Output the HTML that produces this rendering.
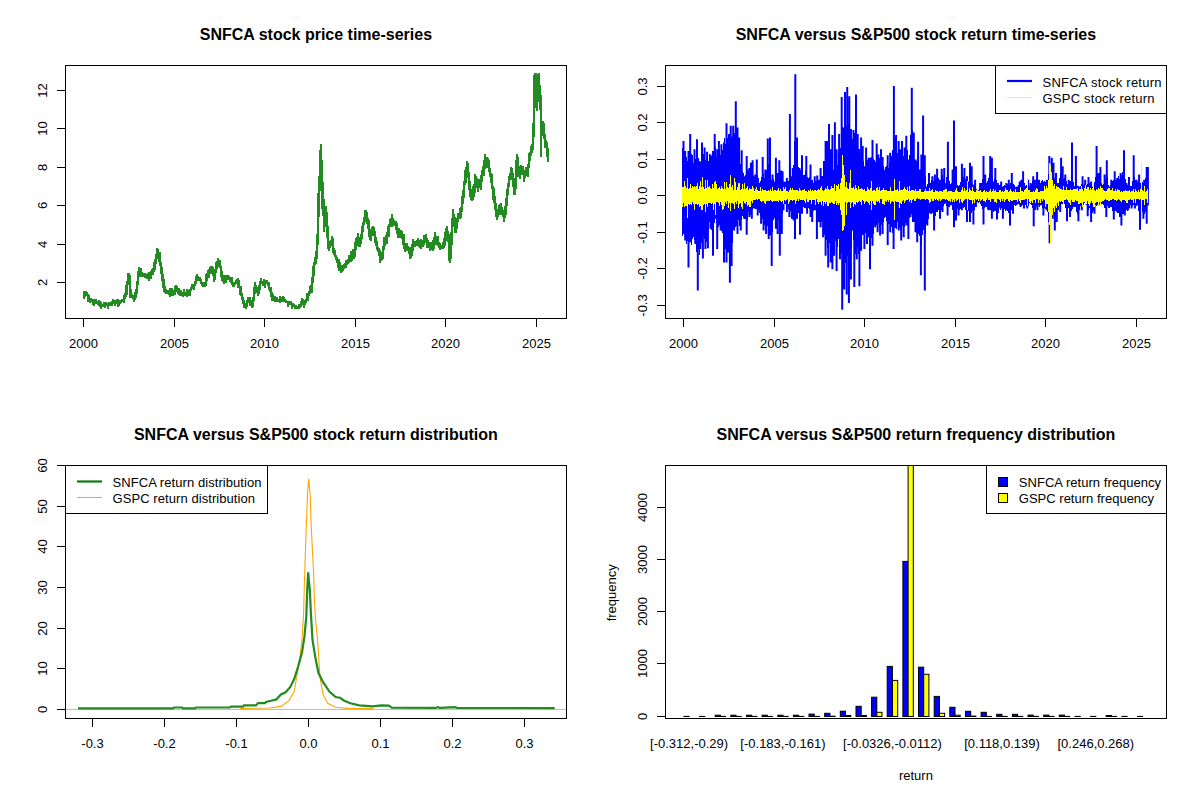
<!DOCTYPE html><html><head><meta charset="utf-8"><style>html,body{margin:0;padding:0;background:#fff;}svg{display:block}</style></head><body>
<svg width="1200" height="800" viewBox="0 0 1200 800" font-family='"Liberation Sans", sans-serif'>
<rect width="1200" height="800" fill="#fff"/>
<defs><clipPath id="c1"><rect x="65.5" y="65.5" width="501" height="253"/></clipPath><clipPath id="c2"><rect x="665.5" y="65.5" width="501" height="253"/></clipPath><clipPath id="c3"><rect x="65.5" y="465.5" width="501" height="253"/></clipPath><clipPath id="c4"><rect x="665.5" y="465.5" width="501" height="253"/></clipPath></defs>
<path d="M83.5,291.2 V298.8 M84.5,291.5 V297.4 M85.5,291.4 V294.3 M86.5,291.7 V296.2 M87.5,294.2 V302.1 M88.5,294.7 V301.5 M89.5,298.8 V302.6 M90.5,298.3 V302.1 M91.5,299.5 V302.3 M92.5,299 V304.8 M93.5,299 V305.7 M94.5,299.3 V304.3 M95.5,299.4 V303 M96.5,300.7 V303.6 M97.5,301.5 V304.6 M98.5,300 V305.6 M99.5,301.4 V306.5 M100.5,301.9 V309.3 M101.5,304.3 V307 M102.5,303.9 V306.8 M103.5,301.6 V306.8 M104.5,301.7 V308 M105.5,302.1 V306.2 M106.5,302.9 V306.1 M107.5,302.7 V308.6 M108.5,302.3 V306 M109.5,302.5 V306 M110.5,301.8 V305.3 M111.5,301.1 V306.2 M112.5,299.2 V303.3 M113.5,300.3 V304.1 M114.5,299.5 V306.1 M115.5,301.3 V303.6 M116.5,299 V304.1 M117.5,298.9 V306.5 M118.5,300.2 V306.3 M119.5,299.8 V303.8 M120.5,300.1 V302.9 M121.5,298.5 V302.3 M122.5,298.6 V302.3 M123.5,295.4 V303 M124.5,293 V299.2 M125.5,284.9 V296.6 M126.5,280.6 V295.1 M127.5,272.7 V284.6 M128.5,272.8 V282.6 M129.5,274.9 V298.4 M130.5,288.9 V297.6 M131.5,294.1 V297.6 M132.5,294.8 V299.1 M133.5,295.4 V302.2 M134.5,291.7 V300.1 M135.5,289.4 V297.8 M136.5,281.4 V294.3 M137.5,270.9 V285.3 M138.5,266.9 V277 M139.5,268.9 V274.6 M140.5,268.1 V276.5 M141.5,272.3 V276.9 M142.5,272.6 V277.3 M143.5,273.2 V277.3 M144.5,273 V278 M145.5,273.5 V278 M146.5,273.9 V279.2 M147.5,273.3 V278.1 M148.5,272.4 V280.6 M149.5,272.5 V277.4 M150.5,270.5 V278.6 M151.5,268.5 V274.3 M152.5,268.3 V274.9 M153.5,262.2 V271.7 M154.5,258.8 V270.3 M155.5,254.3 V263.7 M156.5,247.5 V259.1 M157.5,249.2 V256.9 M158.5,253 V261.9 M159.5,252.4 V266.4 M160.5,261.9 V273.9 M161.5,266.8 V281.2 M162.5,274.3 V287.8 M163.5,279.1 V291.7 M164.5,286.3 V292.5 M165.5,288.9 V294.1 M166.5,290.2 V293.6 M167.5,290.3 V293.6 M168.5,290.2 V294.9 M169.5,288.4 V296.8 M170.5,288.7 V296.2 M171.5,287.7 V295 M172.5,292.8 V296 M173.5,289.9 V295 M174.5,286 V294.7 M175.5,284.7 V289.3 M176.5,286.3 V291.8 M177.5,289.4 V293.6 M178.5,287.6 V294.9 M179.5,290.3 V295.7 M180.5,289.9 V296.2 M181.5,291.8 V296.1 M182.5,291.9 V296.9 M183.5,289.4 V295.4 M184.5,291.7 V295.6 M185.5,291.6 V295.8 M186.5,289.4 V297 M187.5,289.5 V296.1 M188.5,291.4 V294.8 M189.5,289.1 V295.6 M190.5,287 V291.3 M191.5,283.7 V288.9 M192.5,284.6 V288.4 M193.5,283.5 V290 M194.5,280.8 V286.3 M195.5,276.2 V284.1 M196.5,273.9 V280.6 M197.5,275.8 V281 M198.5,276.7 V280.1 M199.5,276.8 V281.3 M200.5,278.7 V284.2 M201.5,282.2 V285.7 M202.5,282.2 V287.3 M203.5,282.6 V286.3 M204.5,282 V286.8 M205.5,273.7 V285.7 M206.5,272.7 V281.1 M207.5,269.8 V276.8 M208.5,268.7 V277.9 M209.5,266.8 V273.5 M210.5,266.4 V271.9 M211.5,266.1 V274.2 M212.5,267.4 V276.1 M213.5,270.5 V281.5 M214.5,268.6 V280.2 M215.5,261.8 V273.1 M216.5,260.5 V269.1 M217.5,258.4 V264.5 M218.5,260.6 V266.6 M219.5,260.4 V267.9 M220.5,266.3 V276.5 M221.5,271.1 V281.1 M222.5,274.9 V281.7 M223.5,274.6 V283.9 M224.5,275 V280.6 M225.5,275.3 V282.5 M226.5,274.8 V280.3 M227.5,275.4 V279.6 M228.5,276.4 V279.6 M229.5,277.1 V282.3 M230.5,277.7 V283.2 M231.5,276.6 V284.5 M232.5,281.8 V286.8 M233.5,283.6 V286.9 M234.5,281.7 V285.2 M235.5,279.7 V284.1 M236.5,278.8 V282.1 M237.5,277.8 V288.2 M238.5,280.3 V288.1 M239.5,286.2 V294.6 M240.5,286.2 V295.9 M241.5,293 V300.3 M242.5,296.5 V303.9 M243.5,300.2 V307.5 M244.5,302.7 V308.1 M245.5,302.8 V309.4 M246.5,300.4 V307.4 M247.5,296.8 V302.5 M248.5,298.5 V302.6 M249.5,296.9 V306.3 M250.5,299.7 V305.5 M251.5,303.1 V308.2 M252.5,297.1 V306.9 M253.5,287.3 V301.3 M254.5,281.7 V294.2 M255.5,285.2 V289.5 M256.5,287.4 V292.6 M257.5,289.3 V296 M258.5,285.4 V294.1 M259.5,281.1 V290.1 M260.5,278.4 V284 M261.5,281.1 V284.4 M262.5,281 V285.7 M263.5,279 V286.2 M264.5,280 V288.3 M265.5,280.8 V284.3 M266.5,280.4 V283.7 M267.5,281.8 V285.5 M268.5,281.9 V290 M269.5,286.7 V291.7 M270.5,287 V297 M271.5,292.3 V300.8 M272.5,293.7 V300 M273.5,297.6 V300.7 M274.5,296 V301.8 M275.5,299 V302.1 M276.5,297.1 V301.9 M277.5,299.1 V302 M278.5,298.9 V301.9 M279.5,296.4 V302.8 M280.5,298.5 V301.6 M281.5,297.3 V301.5 M282.5,295.6 V301.8 M283.5,296.7 V301.3 M284.5,298.9 V302.3 M285.5,299.5 V302.6 M286.5,300.7 V303.2 M287.5,300.9 V306.7 M288.5,301.4 V304.6 M289.5,301.9 V304.9 M290.5,300.6 V305.3 M291.5,302.9 V308.6 M292.5,303.3 V306.7 M293.5,304.1 V307 M294.5,304.5 V309.4 M295.5,305.1 V307.6 M296.5,305.5 V309.1 M297.5,306 V308.3 M298.5,303.5 V308.8 M299.5,303.8 V307.8 M300.5,301.4 V306.8 M301.5,297.7 V304.2 M302.5,298.7 V304.9 M303.5,301.2 V307.6 M304.5,299.6 V305.1 M305.5,298.7 V303.2 M306.5,292.8 V300.7 M307.5,293.1 V301.1 M308.5,291.4 V295.8 M309.5,286.4 V294 M310.5,285.1 V292.6 M311.5,277.1 V293.2 M312.5,266.3 V282.7 M313.5,262 V275.8 M314.5,257.1 V265.2 M315.5,251.2 V263.6 M316.5,234 V259.2 M317.5,192.7 V245.4 M318.5,175.6 V216.7 M319.5,150.1 V191.3 M320.5,143.5 V179.3 M321.5,160.4 V209.4 M322.5,182 V216.1 M323.5,199.2 V232 M324.5,208.8 V226.5 M325.5,206 V224 M326.5,212.4 V237.6 M327.5,226.3 V248.6 M328.5,241.8 V250.8 M329.5,241.2 V247.8 M330.5,240 V246.3 M331.5,236.1 V244.7 M332.5,238.1 V253 M333.5,248.2 V254.5 M334.5,249.9 V256.9 M335.5,254.7 V260.4 M336.5,257.3 V263 M337.5,259.8 V267.6 M338.5,258.9 V270.7 M339.5,261.5 V267.6 M340.5,265 V272.9 M341.5,266.1 V271.8 M342.5,265.2 V271.1 M343.5,263.8 V268.7 M344.5,263 V268.2 M345.5,259.7 V267.9 M346.5,259.6 V264.8 M347.5,259.4 V263.6 M348.5,255.1 V263.1 M349.5,256.3 V261.7 M350.5,250.5 V261.5 M351.5,252.6 V261.2 M352.5,248.7 V257.5 M353.5,250.7 V258.5 M354.5,241.7 V257.2 M355.5,238 V249.9 M356.5,236.5 V245.6 M357.5,232.9 V243.2 M358.5,237.3 V247 M359.5,240.5 V247.1 M360.5,233.7 V243.5 M361.5,226.4 V239.4 M362.5,221.7 V231.5 M363.5,217 V224.5 M364.5,210.1 V221.7 M365.5,209.6 V220.1 M366.5,212 V224.2 M367.5,217.9 V229.2 M368.5,220.4 V236.5 M369.5,229.2 V239.7 M370.5,231.2 V240.7 M371.5,227.1 V234.5 M372.5,225.6 V236.1 M373.5,227.1 V234.4 M374.5,231.3 V243.1 M375.5,237.4 V245.9 M376.5,241.4 V249.7 M377.5,246.7 V252 M378.5,247.8 V255.6 M379.5,249.5 V262.8 M380.5,253.6 V261.2 M381.5,251.7 V260.2 M382.5,246.3 V258.8 M383.5,237.3 V249.8 M384.5,238.6 V245.5 M385.5,235.1 V243.6 M386.5,231.9 V243.8 M387.5,225.6 V235.7 M388.5,224.2 V237.1 M389.5,219 V227.2 M390.5,217.7 V226.6 M391.5,214.3 V227.4 M392.5,218 V225.3 M393.5,219.5 V225.5 M394.5,221 V226.4 M395.5,221.2 V229.5 M396.5,222.6 V234.4 M397.5,227.7 V237.9 M398.5,227.5 V236.3 M399.5,229.9 V237.7 M400.5,229.9 V237.7 M401.5,231.2 V238.7 M402.5,234.4 V244.8 M403.5,233.8 V248.6 M404.5,242.5 V251.5 M405.5,242.8 V248.4 M406.5,243.4 V251.4 M407.5,245.5 V249.1 M408.5,247.6 V253.6 M409.5,247.1 V258.6 M410.5,251.7 V258.3 M411.5,244.4 V255.7 M412.5,239.3 V250.9 M413.5,242.3 V246.7 M414.5,240.6 V247.4 M415.5,240.6 V246.4 M416.5,239.7 V246.3 M417.5,238.2 V245 M418.5,240.4 V246.6 M419.5,241.5 V247.5 M420.5,239.4 V248.6 M421.5,242.1 V247.4 M422.5,239.8 V246.9 M423.5,235 V244.9 M424.5,235.5 V240.9 M425.5,234.1 V242.7 M426.5,238 V247.8 M427.5,239.8 V247.3 M428.5,242.4 V248.3 M429.5,243 V251.1 M430.5,241.9 V250.2 M431.5,241.5 V249.4 M432.5,239.6 V250.8 M433.5,236.8 V248.9 M434.5,232.4 V241.1 M435.5,235.6 V244.5 M436.5,237.9 V242.2 M437.5,235.9 V245.7 M438.5,241.5 V247.5 M439.5,242.8 V250.2 M440.5,244.6 V249 M441.5,244.5 V249.1 M442.5,242.2 V248.5 M443.5,238.3 V247.6 M444.5,231.5 V245.9 M445.5,227.7 V241.1 M446.5,225.5 V237.7 M447.5,230.6 V242.3 M448.5,233.6 V261.3 M449.5,250.8 V263.3 M450.5,232.2 V258.6 M451.5,218.1 V245.2 M452.5,209.4 V227.3 M453.5,213.9 V226 M454.5,216.8 V233.1 M455.5,223.4 V233.1 M456.5,217.9 V229 M457.5,213.3 V221.6 M458.5,213.3 V217 M459.5,208.2 V218.6 M460.5,206.8 V218.3 M461.5,195.9 V211.9 M462.5,189.5 V203.7 M463.5,181.3 V198.3 M464.5,169.6 V185.4 M465.5,167.3 V183.2 M466.5,160.7 V173.7 M467.5,163.3 V177.6 M468.5,172.1 V189.9 M469.5,181 V196.8 M470.5,188.7 V200 M471.5,190.8 V200.5 M472.5,185.9 V200.3 M473.5,183.5 V196.7 M474.5,173.8 V193.1 M475.5,176.2 V185.3 M476.5,178.2 V187.6 M477.5,178.6 V191.9 M478.5,178.6 V188.1 M479.5,181.1 V186.4 M480.5,175 V190.2 M481.5,170.4 V182.2 M482.5,166.2 V172.8 M483.5,159.7 V176.3 M484.5,153.6 V169.2 M485.5,158.4 V162.6 M486.5,157.3 V168.1 M487.5,158.1 V167.7 M488.5,159.6 V171.5 M489.5,167.6 V176.7 M490.5,172.5 V183.1 M491.5,173.8 V189.4 M492.5,186.4 V200.2 M493.5,188.3 V202.7 M494.5,196.4 V209.9 M495.5,203.2 V217.4 M496.5,210.4 V219.7 M497.5,209.1 V216.7 M498.5,205.2 V214 M499.5,203.7 V214.8 M500.5,202.8 V211.1 M501.5,206.6 V214.8 M502.5,210.3 V217.2 M503.5,210.9 V222.2 M504.5,205.9 V218.1 M505.5,198.4 V214.7 M506.5,189.1 V205.7 M507.5,182.6 V194.5 M508.5,175.7 V186.5 M509.5,173.1 V179.5 M510.5,167 V178.5 M511.5,167.5 V179.9 M512.5,173.3 V187.4 M513.5,182.6 V194.9 M514.5,178 V194.9 M515.5,159.7 V188.6 M516.5,153.6 V176.7 M517.5,156.7 V174.3 M518.5,165.5 V177 M519.5,169.2 V178.8 M520.5,164.6 V175.3 M521.5,166.1 V173.8 M522.5,166.3 V175.3 M523.5,169.6 V181.5 M524.5,170.5 V178.4 M525.5,166.9 V175.7 M526.5,168.5 V173.9 M527.5,164.1 V177 M528.5,153.1 V167.6 M529.5,152.4 V161.3 M530.5,145.9 V156.1 M531.5,144.2 V153.1 M532.5,122.5 V149.9 M533.5,75.2 V137 M534.5,73.4 V108.2 M535.5,73.2 V100.2 M536.5,85 V111.2 M537.5,74.4 V102 M538.5,72.9 V99.9 M539.5,85.3 V110.1 M540.5,95.1 V157.1 M541.5,126.3 V132.3 M542.5,121 V135.9 M543.5,122.7 V139.3 M544.5,133.6 V148.3 M545.5,139.8 V148.3 M546.5,142.4 V156.7 M547.5,147.6 V162.1" fill="none" stroke="#228B22" stroke-width="2" shape-rendering="crispEdges" clip-path="url(#c1)"/>
<rect x="65.5" y="65.5" width="501.0" height="253.0" fill="none" stroke="#000" stroke-width="1"/>
<text x="315.9" y="40" font-size="16" font-weight="bold" text-anchor="middle">SNFCA stock price time-series</text>
<line x1="83.5" y1="318.5" x2="83.5" y2="327.0" stroke="#000" stroke-width="1"/>
<text x="83.5" y="348.0" font-size="13" text-anchor="middle">2000</text>
<line x1="174.5" y1="318.5" x2="174.5" y2="327.0" stroke="#000" stroke-width="1"/>
<text x="174.5" y="348.0" font-size="13" text-anchor="middle">2005</text>
<line x1="264.5" y1="318.5" x2="264.5" y2="327.0" stroke="#000" stroke-width="1"/>
<text x="264.5" y="348.0" font-size="13" text-anchor="middle">2010</text>
<line x1="355.5" y1="318.5" x2="355.5" y2="327.0" stroke="#000" stroke-width="1"/>
<text x="355.5" y="348.0" font-size="13" text-anchor="middle">2015</text>
<line x1="445.5" y1="318.5" x2="445.5" y2="327.0" stroke="#000" stroke-width="1"/>
<text x="445.5" y="348.0" font-size="13" text-anchor="middle">2020</text>
<line x1="536.5" y1="318.5" x2="536.5" y2="327.0" stroke="#000" stroke-width="1"/>
<text x="536.5" y="348.0" font-size="13" text-anchor="middle">2025</text>
<line x1="57.0" y1="282.5" x2="65.5" y2="282.5" stroke="#000" stroke-width="1"/>
<text transform="translate(47.0,282.5) rotate(-90)" font-size="13" text-anchor="middle">2</text>
<line x1="57.0" y1="244.5" x2="65.5" y2="244.5" stroke="#000" stroke-width="1"/>
<text transform="translate(47.0,244.5) rotate(-90)" font-size="13" text-anchor="middle">4</text>
<line x1="57.0" y1="205.5" x2="65.5" y2="205.5" stroke="#000" stroke-width="1"/>
<text transform="translate(47.0,205.5) rotate(-90)" font-size="13" text-anchor="middle">6</text>
<line x1="57.0" y1="167.5" x2="65.5" y2="167.5" stroke="#000" stroke-width="1"/>
<text transform="translate(47.0,167.5) rotate(-90)" font-size="13" text-anchor="middle">8</text>
<line x1="57.0" y1="128.5" x2="65.5" y2="128.5" stroke="#000" stroke-width="1"/>
<text transform="translate(47.0,128.5) rotate(-90)" font-size="13" text-anchor="middle">10</text>
<line x1="57.0" y1="90.5" x2="65.5" y2="90.5" stroke="#000" stroke-width="1"/>
<text transform="translate(47.0,90.5) rotate(-90)" font-size="13" text-anchor="middle">12</text>
<path d="M682.5,147.9 V235.7 M683.5,142.5 V231.5 M684.5,152.5 V234.9 M685.5,151.1 V234.1 M686.5,156.5 V243.9 M687.5,160.6 V240.9 M688.5,151.3 V252.3 M689.5,152.2 V235.5 M690.5,145.4 V241.2 M691.5,153.6 V245.3 M692.5,154.9 V238.8 M693.5,162.8 V237.2 M694.5,157.4 V240.2 M695.5,159.3 V237.6 M696.5,152.2 V252.4 M697.5,156.7 V269.6 M698.5,157.6 V249.2 M699.5,164 V254.7 M700.5,161.8 V246.5 M701.5,162.1 V242.5 M702.5,150.8 V250.5 M703.5,153.8 V235.6 M704.5,156.8 V238.6 M705.5,160.2 V238.1 M706.5,158 V242.2 M707.5,154.9 V234.9 M708.5,160.6 V230 M709.5,153.5 V222 M710.5,161.4 V219.6 M711.5,155.9 V230.3 M712.5,154.2 V235.6 M713.5,158.4 V226.1 M714.5,144.4 V222.9 M715.5,146.7 V216.6 M716.5,156.7 V223.4 M717.5,157.3 V235.1 M718.5,148.7 V226.8 M719.5,150 V224.7 M720.5,155.2 V226.3 M721.5,148.6 V231.3 M722.5,150.2 V232.7 M723.5,152.5 V235.1 M724.5,138.1 V248.6 M725.5,144 V249.2 M726.5,132 V240.6 M727.5,137.8 V246.8 M728.5,140.8 V247.6 M729.5,144.8 V248.1 M730.5,134.6 V245.5 M731.5,137.3 V250.9 M732.5,135.7 V242.6 M733.5,138.9 V228.6 M734.5,132.5 V225.5 M735.5,122.1 V227 M736.5,134.1 V225.6 M737.5,154.2 V223.4 M738.5,158.5 V220.3 M739.5,164 V226.2 M740.5,163.9 V220.9 M741.5,167.6 V220.1 M742.5,171.2 V216 M743.5,173 V216.6 M744.5,178.3 V218.8 M745.5,175.3 V218.7 M746.5,166.1 V220.3 M747.5,170.1 V219.8 M748.5,169.7 V212.3 M749.5,174.1 V212.9 M750.5,172.6 V214.5 M751.5,172.1 V214.8 M752.5,173.1 V209.9 M753.5,175.7 V207.8 M754.5,177 V207.1 M755.5,176.4 V209.3 M756.5,175 V208.8 M757.5,174.9 V209.5 M758.5,178.2 V210.1 M759.5,183.3 V213.3 M760.5,180.8 V215.8 M761.5,176.7 V219.8 M762.5,171.9 V218.5 M763.5,174 V218 M764.5,177.5 V224.6 M765.5,177.2 V228 M766.5,169.8 V225.4 M767.5,165.1 V225.8 M768.5,163.9 V222.6 M769.5,163.6 V223.3 M770.5,180 V231.7 M771.5,179.6 V236.7 M772.5,177 V231.6 M773.5,179.2 V220 M774.5,182 V217.8 M775.5,176.8 V222.7 M776.5,172.6 V217.9 M777.5,178.3 V221.6 M778.5,173.8 V219.6 M779.5,170.6 V224.9 M780.5,175 V221.2 M781.5,179.2 V221.8 M782.5,176.2 V213.8 M783.5,182 V204.7 M784.5,183.4 V203.5 M785.5,182.3 V203.5 M786.5,182.8 V205.6 M787.5,180.6 V206.4 M788.5,180.8 V208.8 M789.5,157.6 V208.4 M790.5,166 V210.5 M791.5,179.6 V207.9 M792.5,174.6 V216 M793.5,165.1 V212.2 M794.5,140.5 V224 M795.5,143.5 V219.9 M796.5,155.9 V219.1 M797.5,165.7 V215.3 M798.5,166.6 V213 M799.5,173 V217.3 M800.5,170.2 V219.1 M801.5,171.3 V210 M802.5,168 V208.2 M803.5,175.3 V207.3 M804.5,174.5 V208.1 M805.5,170.9 V207.7 M806.5,175.2 V209.6 M807.5,176.6 V209.6 M808.5,178.3 V208.4 M809.5,177.4 V208.5 M810.5,173.9 V212.5 M811.5,179.8 V214.3 M812.5,180.2 V215.2 M813.5,182.7 V211.4 M814.5,182.8 V210.4 M815.5,180.9 V208.2 M816.5,181.2 V216.5 M817.5,179.6 V221.7 M818.5,182.8 V214.9 M819.5,180.2 V215.4 M820.5,172.8 V216.2 M821.5,175.5 V221.8 M822.5,175.6 V221.4 M823.5,173.5 V232.1 M824.5,168.5 V235.3 M825.5,166.4 V237.8 M826.5,155.7 V240.1 M827.5,155.5 V247.5 M828.5,158.5 V245.4 M829.5,156.3 V243.2 M830.5,166.1 V251.6 M831.5,163.2 V252.1 M832.5,158.1 V243.9 M833.5,169.5 V246 M834.5,163.8 V240.5 M835.5,160 V240.6 M836.5,157.5 V255.3 M837.5,165 V246.6 M838.5,152.5 V238.3 M839.5,158.4 V243 M840.5,147.6 V246.3 M841.5,127.8 V252.5 M842.5,126.9 V271.2 M843.5,138.3 V272.2 M844.5,120.1 V255.6 M845.5,123.4 V262.7 M846.5,125.8 V263.5 M847.5,106 V256 M848.5,123.8 V264.5 M849.5,112.5 V267.5 M850.5,135.9 V258.8 M851.5,129.6 V247.3 M852.5,138.8 V226.9 M853.5,129.9 V239.6 M854.5,133.2 V254.9 M855.5,126.9 V254.1 M856.5,135.3 V237.1 M857.5,149.9 V247.1 M858.5,149.2 V253.5 M859.5,148.7 V261 M860.5,154.3 V249.8 M861.5,159.5 V241.2 M862.5,156.9 V235.1 M863.5,160.8 V235.3 M864.5,168.1 V245.6 M865.5,166.4 V232.6 M866.5,160.6 V233.7 M867.5,159.6 V230.1 M868.5,160.5 V234 M869.5,161.3 V228.7 M870.5,164.4 V245.2 M871.5,157.3 V237.5 M872.5,156.1 V233.4 M873.5,158.5 V234.1 M874.5,159.9 V224 M875.5,162.3 V225.1 M876.5,155.8 V225.2 M877.5,161.3 V223.6 M878.5,165.5 V223.1 M879.5,158.4 V227.6 M880.5,158.4 V228.4 M881.5,158.2 V225 M882.5,162 V220 M883.5,165.7 V221.8 M884.5,171.1 V218.3 M885.5,166.9 V217.3 M886.5,166.4 V220.9 M887.5,166.3 V231.5 M888.5,168.4 V224 M889.5,161.8 V224.1 M890.5,167.4 V224.8 M891.5,165.5 V226.6 M892.5,150.2 V233.3 M893.5,131.6 V234.1 M894.5,138.7 V228.4 M895.5,135.6 V228.3 M896.5,154.3 V228.7 M897.5,153.3 V222.4 M898.5,150.7 V224.4 M899.5,150.2 V228.1 M900.5,155.3 V230.2 M901.5,154.7 V230.7 M902.5,152.3 V225.6 M903.5,155.8 V221.6 M904.5,156.7 V226.6 M905.5,152.3 V223 M906.5,148.2 V217.5 M907.5,150.2 V225.1 M908.5,164.5 V228.8 M909.5,155 V218.2 M910.5,135.3 V216.1 M911.5,126.2 V214.4 M912.5,130 V214.7 M913.5,153.6 V218.1 M914.5,163.9 V221.7 M915.5,168.6 V221.2 M916.5,161.2 V224.9 M917.5,155.8 V230.6 M918.5,157.7 V227.6 M919.5,174.8 V235.8 M920.5,177.8 V246.4 M921.5,172.3 V245 M922.5,158.5 V234.9 M923.5,162.1 V230.4 M924.5,167 V249.8 M925.5,177.2 V234.1 M926.5,186.7 V224.3 M927.5,184.3 V219.9 M928.5,183.5 V218.8 M929.5,180.1 V213.1 M930.5,182.6 V211.8 M931.5,180.4 V214.1 M932.5,183.7 V213 M933.5,180.6 V220.4 M934.5,180 V218.6 M935.5,178.6 V215.9 M936.5,176.9 V209.7 M937.5,174.3 V212 M938.5,178.1 V210 M939.5,179.6 V207.6 M940.5,180.2 V208.1 M941.5,177.4 V209.7 M942.5,175.3 V205.4 M943.5,179.2 V206.4 M944.5,177.8 V203.6 M945.5,183 V203.2 M946.5,177 V205.9 M947.5,166.2 V208.9 M948.5,173.7 V206.7 M949.5,181.1 V207.1 M950.5,183.9 V203.2 M951.5,182.8 V205.3 M952.5,179.5 V210.3 M953.5,165.3 V212.5 M954.5,166.5 V214.6 M955.5,173.3 V210.1 M956.5,179.5 V213.6 M957.5,184.7 V208.8 M958.5,186.4 V209.2 M959.5,184.7 V209.5 M960.5,181.7 V209.1 M961.5,177.4 V209.8 M962.5,174 V205.8 M963.5,177.2 V207.7 M964.5,176.5 V207.3 M965.5,179.3 V209.8 M966.5,181.3 V211 M967.5,181 V214.1 M968.5,182 V211 M969.5,179.3 V209.1 M970.5,180.7 V213.6 M971.5,179.2 V213.1 M972.5,183 V211.4 M973.5,188.6 V211 M974.5,186.6 V210.4 M975.5,186.2 V204.8 M976.5,188.6 V202.8 M977.5,190.2 V201.9 M978.5,189.9 V202.8 M979.5,187.8 V201.9 M980.5,185.3 V204 M981.5,183.1 V205.6 M982.5,179 V208.8 M983.5,172.9 V212.4 M984.5,177.4 V208.2 M985.5,178.7 V205.8 M986.5,184.5 V205.5 M987.5,181.1 V208.9 M988.5,178.4 V208.8 M989.5,174.3 V210.4 M990.5,174.3 V210 M991.5,168.9 V210.2 M992.5,177.1 V209.5 M993.5,183.6 V211.5 M994.5,178.7 V211.3 M995.5,177.8 V211.3 M996.5,179.6 V214.8 M997.5,184 V210.6 M998.5,184.5 V212.8 M999.5,184.7 V207.4 M1000.5,183.8 V209.5 M1001.5,185.4 V208.4 M1002.5,186.7 V212 M1003.5,185.8 V212.5 M1004.5,185.4 V209.3 M1005.5,186.3 V210.5 M1006.5,184.8 V208.7 M1007.5,184 V211 M1008.5,185.5 V213.2 M1009.5,184.7 V213.9 M1010.5,182.6 V213.1 M1011.5,180.5 V210.2 M1012.5,182.7 V207.5 M1013.5,184.3 V208.3 M1014.5,185.4 V205.3 M1015.5,186.5 V206.4 M1016.5,187.3 V203.5 M1017.5,187.6 V203.8 M1018.5,185 V203.8 M1019.5,183.8 V205 M1020.5,184.1 V205.7 M1021.5,183.4 V206.1 M1022.5,180.8 V205.3 M1023.5,179.9 V206.1 M1024.5,183 V206.2 M1025.5,185.8 V204.9 M1026.5,185.1 V206.9 M1027.5,184.8 V204.7 M1028.5,183.9 V205.8 M1029.5,185.8 V202.6 M1030.5,185.3 V203.6 M1031.5,183.5 V205.4 M1032.5,181.3 V208.2 M1033.5,179.8 V210.7 M1034.5,183.7 V210.4 M1035.5,183.1 V210.2 M1036.5,179.4 V206.9 M1037.5,177.2 V205.8 M1038.5,181.8 V205.2 M1039.5,180.5 V206.9 M1040.5,183.1 V203.5 M1041.5,180.9 V205.1 M1042.5,180.3 V207.8 M1043.5,181.5 V208.6 M1044.5,180.6 V208.4 M1045.5,182.3 V209.4 M1046.5,183.1 V208 M1047.5,180.3 V211.9 M1048.5,174.3 V221.5 M1049.5,173.6 V224.9 M1050.5,170.6 V224.7 M1051.5,166.9 V218.5 M1052.5,174.7 V212.5 M1053.5,175.8 V215.2 M1054.5,177.7 V216.8 M1055.5,176.7 V219.4 M1056.5,180.9 V219.5 M1057.5,183 V210.4 M1058.5,184.9 V210.1 M1059.5,177.5 V206.4 M1060.5,173 V206.8 M1061.5,174.4 V204 M1062.5,175.4 V203.9 M1063.5,178.9 V201.9 M1064.5,178.1 V203.8 M1065.5,179.6 V207.9 M1066.5,181.2 V210.9 M1067.5,183.5 V211.5 M1068.5,182.4 V208.2 M1069.5,183.1 V210.9 M1070.5,181 V206.1 M1071.5,173.9 V210.8 M1072.5,174.4 V208.9 M1073.5,181.8 V207.2 M1074.5,185.8 V206.5 M1075.5,175 V207.4 M1076.5,178.6 V212.3 M1077.5,185.6 V213.6 M1078.5,185.8 V208.4 M1079.5,187.6 V210.1 M1080.5,185.7 V205.8 M1081.5,184.3 V205.1 M1082.5,182.7 V203.5 M1083.5,184.5 V204.6 M1084.5,184 V203.1 M1085.5,185 V202.3 M1086.5,184.6 V204.8 M1087.5,184.1 V208.3 M1088.5,183.9 V209.8 M1089.5,183.3 V208 M1090.5,184.6 V210.5 M1091.5,183.7 V209.8 M1092.5,186.7 V213.1 M1093.5,185.9 V210.7 M1094.5,182.3 V207.3 M1095.5,176.5 V205.3 M1096.5,172.4 V205.9 M1097.5,173.9 V205.1 M1098.5,180.2 V202.7 M1099.5,178.3 V204 M1100.5,178.4 V203.5 M1101.5,183.4 V204.3 M1102.5,184.9 V204.3 M1103.5,184.1 V204.7 M1104.5,181.9 V208.4 M1105.5,179.1 V207.8 M1106.5,176 V207.7 M1107.5,176.7 V206.1 M1108.5,184.9 V208.3 M1109.5,186.7 V207.7 M1110.5,185.2 V205.4 M1111.5,184.6 V206.6 M1112.5,181.1 V211 M1113.5,179.5 V209.4 M1114.5,179.2 V210.6 M1115.5,180.2 V210.6 M1116.5,179.8 V211.3 M1117.5,181.9 V212.6 M1118.5,176.3 V213 M1119.5,179.4 V217.2 M1120.5,180.4 V216.7 M1121.5,174.7 V215.7 M1122.5,171.6 V214.4 M1123.5,169.6 V214.2 M1124.5,170.4 V211.3 M1125.5,178.7 V210.7 M1126.5,186.2 V210.3 M1127.5,185 V210.8 M1128.5,183.3 V209.4 M1129.5,183.3 V208.2 M1130.5,186 V205.3 M1131.5,185.8 V206.3 M1132.5,180.5 V206.3 M1133.5,171.9 V205.4 M1134.5,177.3 V207.3 M1135.5,179.5 V206.3 M1136.5,182.2 V206.4 M1137.5,181.6 V203.6 M1138.5,182.5 V210.8 M1139.5,179.3 V211.8 M1140.5,184.3 V213.9 M1141.5,184.9 V213 M1142.5,181.9 V212.4 M1143.5,182.7 V209.1 M1144.5,181.9 V214.2 M1145.5,178.2 V212.2 M1146.5,176.9 V214.8 M1147.5,174.8 V206.4" stroke="#0000FF" stroke-width="1" fill="none" shape-rendering="crispEdges" clip-path="url(#c2)"/>
<path d="M683.5,195.3 V140.9 M685.2,195.3 V151 M688.5,195.3 V151 M690.2,195.3 V134.1 M691.9,195.3 V157.7 M694.5,195.3 V149.3 M697,195.3 V139.2 M699.5,195.3 V161.1 M702,195.3 V142.6 M704.6,195.3 V147.6 M707.1,195.3 V151.8 M710.5,195.3 V154.4 M713,195.3 V151 M714.7,195.3 V134.1 M717.2,195.3 V149.3 M718.9,195.3 V140.9 M721.4,195.3 V144.3 M724,195.3 V142.6 M726.5,195.3 V123.2 M729,195.3 V134.1 M730.7,195.3 V125.7 M733.2,195.3 V125.7 M735.8,195.3 V101.3 M737.5,195.3 V127.4 M739.1,195.3 V137.5 M741.7,195.3 V150.2 M744.2,195.3 V176.3 M746.7,195.3 V156.1 M749.3,195.3 V167.9 M750.9,195.3 V162.8 M752.6,195.3 V160.3 M755.2,195.3 V174.6 M756.8,195.3 V159.4 M759.4,195.3 V183 M762.7,195.3 V156.9 M765.3,195.3 V169.6 M767.8,195.3 V138.4 M770,195.3 V137.5 M770,195.3 V172.1 M772.5,195.3 V174.6 M774.2,195.3 V181.4 M775.9,195.3 V157.7 M777.6,195.3 V172.9 M779.3,195.3 V160.3 M781,195.3 V170.4 M782.6,195.3 V171.2 M784.3,195.3 V181.4 M786.9,195.3 V178 M788.5,195.3 V181.4 M789.9,195.3 V113.9 M791.1,195.3 V176.3 M792.8,195.3 V167.9 M795.3,195.3 V74.3 M797,195.3 V137.5 M799.5,195.3 V167.9 M802,195.3 V155.2 M803.7,195.3 V178 M806.3,195.3 V156.1 M808.8,195.3 V178 M810.5,195.3 V164.5 M813,195.3 V183 M814.7,195.3 V176.3 M817.2,195.3 V175.5 M818.9,195.3 V179.7 M820.6,195.3 V167.9 M824,195.3 V161.1 M825.6,195.3 V140.9 M827.3,195.3 V140.9 M829,195.3 V124 M830.7,195.3 V149.3 M832.4,195.3 V135 M834.1,195.3 V172.9 M834.9,195.3 V122.3 M836.6,195.3 V149.3 M839.1,195.3 V134.1 M841.7,195.3 V97 M843.4,195.3 V127.4 M845,195.3 V92 M847.2,195.3 V86.9 M849.3,195.3 V96.2 M850.9,195.3 V129.1 M853.5,195.3 V129.9 M856,195.3 V94.5 M857.7,195.3 V134.1 M861.1,195.3 V137.5 M862.7,195.3 V145.9 M864.4,195.3 V166.2 M866.1,195.3 V147.6 M868.7,195.3 V157.7 M870,195.3 V157.7 M870,195.3 V157.7 M872.5,195.3 V140 M874.2,195.3 V162.8 M876.7,195.3 V143.4 M878.4,195.3 V154.4 M881,195.3 V149.3 M882.6,195.3 V156.9 M885.2,195.3 V169.6 M887.7,195.3 V155.2 M890.2,195.3 V152.7 M891.9,195.3 V156.1 M893.9,195.3 V86.1 M896.1,195.3 V135 M898.7,195.3 V140.9 M900.4,195.3 V149.3 M902,195.3 V140.9 M904.6,195.3 V147.6 M906.3,195.3 V135.8 M908.8,195.3 V159.4 M911.8,195.3 V87.8 M913.8,195.3 V132.5 M915.5,195.3 V159.4 M918.1,195.3 V141.7 M919.7,195.3 V169.6 M921.4,195.3 V154.4 M923.1,195.3 V115.6 M924.8,195.3 V155.2 M926.5,195.3 V186.4 M929,195.3 V172.9 M932.4,195.3 V176.3 M934.9,195.3 V174.6 M937.1,195.3 V168.7 M939.1,195.3 V179.7 M941.7,195.3 V168.7 M944.2,195.3 V167.9 M945.9,195.3 V183 M947.9,195.3 V141.7 M950.1,195.3 V184.7 M952.6,195.3 V169.6 M954,195.3 V120.6 M956,195.3 V166.2 M958.5,195.3 V186.4 M961.9,195.3 V163.7 M964.4,195.3 V167.9 M967,195.3 V176.3 M968.7,195.3 V181.4 M970,195.3 V162.8 M970,195.3 V181.4 M971.7,195.3 V166.2 M973.4,195.3 V184.7 M975.1,195.3 V179.7 M977.6,195.3 V189.8 M980.1,195.3 V183 M983.5,195.3 V156.1 M985.2,195.3 V174.6 M986.9,195.3 V183 M990.2,195.3 V156.1 M991.9,195.3 V157.7 M993.6,195.3 V181.4 M995.3,195.3 V167.9 M997.8,195.3 V183 M1001.2,195.3 V181.4 M1003.7,195.3 V186.4 M1006.3,195.3 V183 M1008.8,195.3 V179.7 M1011.8,195.3 V172.9 M1013.8,195.3 V185.6 M1017.2,195.3 V186.4 M1019.7,195.3 V181.4 M1021.4,195.3 V179.7 M1023.1,195.3 V171.2 M1025.6,195.3 V186.4 M1028.2,195.3 V179.7 M1030.7,195.3 V183 M1033.2,195.3 V176.3 M1034.9,195.3 V179.7 M1037.1,195.3 V172.1 M1039.1,195.3 V179.7 M1042.5,195.3 V181.4 M1046.7,195.3 V179.7 M1049.3,195.3 V156.1 M1051.8,195.3 V157.7 M1053.5,195.3 V162.8 M1056,195.3 V172.9 M1058.5,195.3 V183 M1061.1,195.3 V157.7 M1062.7,195.3 V166.2 M1065.3,195.3 V174.6 M1068.7,195.3 V179.7 M1070,195.3 V181.4 M1070,195.3 V181.4 M1072,195.3 V142.6 M1074.2,195.3 V186.4 M1075.9,195.3 V156.1 M1077.6,195.3 V186.4 M1080.1,195.3 V186.4 M1082.6,195.3 V176.3 M1085.2,195.3 V179.7 M1088.5,195.3 V177.1 M1091.1,195.3 V181.4 M1093.6,195.3 V186.4 M1096.6,195.3 V145.9 M1098.7,195.3 V172.9 M1100.4,195.3 V167 M1102,195.3 V186.4 M1104.6,195.3 V174.6 M1106.8,195.3 V160.3 M1108.8,195.3 V186.4 M1111.3,195.3 V179.7 M1114.7,195.3 V171.2 M1117.2,195.3 V178 M1120.6,195.3 V172.9 M1124,195.3 V150.2 M1126.5,195.3 V183 M1129,195.3 V177.1 M1131.6,195.3 V186.4 M1133.7,195.3 V155.2 M1136.6,195.3 V179.7 M1139.1,195.3 V174.6 M1140.8,195.3 V183 M1144.2,195.3 V179.7 M1146.7,195.3 V167 M1147.9,195.3 V167 M683.5,195.3 V233.9 M685.2,195.3 V240.6 M688.5,195.3 V267.6 M690.2,195.3 V242.3 M695.3,195.3 V244 M697.8,195.3 V290.4 M700.4,195.3 V249.1 M702.9,195.3 V258.4 M705.4,195.3 V249.1 M707.9,195.3 V248.2 M710.5,195.3 V228.8 M713,195.3 V255.8 M715.5,195.3 V218.7 M717.2,195.3 V249.1 M720.6,195.3 V230.5 M724,195.3 V262.6 M726.5,195.3 V262.6 M728.2,195.3 V252.5 M729.9,195.3 V282.8 M731.6,195.3 V265.9 M734.1,195.3 V230.5 M737.5,195.3 V233.9 M740.8,195.3 V230.5 M744.2,195.3 V218.7 M746.7,195.3 V234.7 M749.3,195.3 V217 M751.8,195.3 V218.7 M754.3,195.3 V208.6 M757.7,195.3 V215.4 M761.1,195.3 V223.8 M763.6,195.3 V230.5 M766.1,195.3 V233.9 M768.7,195.3 V239 M770,195.3 V235.6 M770,195.3 V235.6 M771.7,195.3 V265.9 M773.4,195.3 V218.7 M775.9,195.3 V228.8 M777.6,195.3 V233.9 M779.8,195.3 V255.8 M781.8,195.3 V233.9 M783.5,195.3 V210.3 M785.2,195.3 V203.5 M786.9,195.3 V212 M789.4,195.3 V217 M791.9,195.3 V218.7 M793.6,195.3 V220.4 M795,195.3 V239 M797,195.3 V218.7 M800,195.3 V234.7 M802,195.3 V213.7 M803.7,195.3 V206.9 M807.1,195.3 V213.7 M810.5,195.3 V217 M812.2,195.3 V222.1 M815.5,195.3 V210.3 M816.9,195.3 V239 M818.9,195.3 V222.1 M820.6,195.3 V227.2 M823.1,195.3 V237.3 M825.6,195.3 V255.8 M828.2,195.3 V267.6 M830.7,195.3 V262.6 M832.4,195.3 V269.3 M834.1,195.3 V255.8 M836.6,195.3 V271 M838.3,195.3 V239 M840,195.3 V259.2 M842.2,195.3 V309.8 M844.2,195.3 V289.6 M846.7,195.3 V294.6 M848.9,195.3 V303 M850.9,195.3 V279.4 M852.6,195.3 V230.5 M854.3,195.3 V287 M856.8,195.3 V259.2 M859.4,195.3 V286.2 M861.1,195.3 V250.8 M864.4,195.3 V249.1 M867,195.3 V244 M868.7,195.3 V237.3 M870,195.3 V235.6 M870,195.3 V269.3 M872.5,195.3 V245.7 M875.1,195.3 V227.2 M877.6,195.3 V232.2 M880.1,195.3 V235.6 M882.6,195.3 V233.9 M885.2,195.3 V217 M887.7,195.3 V244.9 M890.2,195.3 V232.2 M893.6,195.3 V249.1 M896.1,195.3 V227.2 M898.7,195.3 V230.5 M901.2,195.3 V240.6 M903.7,195.3 V237.3 M906.3,195.3 V225.5 M908.4,195.3 V239 M910.5,195.3 V217 M913,195.3 V222.1 M915.5,195.3 V232.2 M917.2,195.3 V242.3 M918.9,195.3 V233.9 M920.9,195.3 V275.2 M923.1,195.3 V228.8 M924.8,195.3 V290.4 M927.3,195.3 V225.5 M930.7,195.3 V213.7 M934.1,195.3 V230.5 M936.6,195.3 V212 M940,195.3 V218.7 M942.5,195.3 V212 M945,195.3 V203.5 M947.6,195.3 V215.4 M950.9,195.3 V205.2 M954,195.3 V227.2 M956,195.3 V220.4 M958.5,195.3 V215.4 M961.9,195.3 V210.3 M964.4,195.3 V206.9 M967,195.3 V222.1 M970,195.3 V208.6 M970,195.3 V222.1 M973.4,195.3 V224.6 M975.9,195.3 V206.9 M979.3,195.3 V201.9 M983.5,195.3 V224.6 M986,195.3 V206.9 M988.5,195.3 V210.3 M991.9,195.3 V218.7 M997,195.3 V219.6 M1000.4,195.3 V208.6 M1002.9,195.3 V218.7 M1006.3,195.3 V210.3 M1010,195.3 V225.5 M1013,195.3 V213.7 M1016.4,195.3 V205.2 M1020.6,195.3 V206.9 M1024,195.3 V208.6 M1027.3,195.3 V208.6 M1030.7,195.3 V203.5 M1033.7,195.3 V226.3 M1037.5,195.3 V210.3 M1040.8,195.3 V205.2 M1043.4,195.3 V215.4 M1046.7,195.3 V210.3 M1049.6,195.3 V243.2 M1052.6,195.3 V218.7 M1054.8,195.3 V230.5 M1056.8,195.3 V222.1 M1060.2,195.3 V212 M1063.6,195.3 V201.9 M1067,195.3 V221.3 M1070,195.3 V217 M1070,195.3 V217 M1073.4,195.3 V206.9 M1078.4,195.3 V221.3 M1081.8,195.3 V210.3 M1085.2,195.3 V201.9 M1087.7,195.3 V216.2 M1091.1,195.3 V222.1 M1094.5,195.3 V213.7 M1098.7,195.3 V205.2 M1102,195.3 V203.5 M1106.3,195.3 V217 M1110.5,195.3 V206.9 M1113.8,195.3 V219.6 M1117.2,195.3 V212 M1121.4,195.3 V225.5 M1124.8,195.3 V215.4 M1128.2,195.3 V210.3 M1131.6,195.3 V208.6 M1134.9,195.3 V208.6 M1137.5,195.3 V205.2 M1140,195.3 V229.7 M1143.4,195.3 V218.7 M1146.7,195.3 V223.8 M1147.9,195.3 V205.2" stroke="#0000FF" stroke-width="2" fill="none" clip-path="url(#c2)"/>
<path d="M682.5,187.1 V203.4 M683.5,187.3 V202.5 M684.5,181.3 V207.4 M685.5,187.6 V203.3 M686.5,188.3 V205.6 M687.5,182.4 V204.6 M688.5,188.5 V203.7 M689.5,187.6 V204.7 M690.5,187.4 V204.4 M691.5,188 V204.9 M692.5,186.4 V202.4 M693.5,187.4 V204 M694.5,186.1 V209.5 M695.5,187.2 V203.6 M696.5,185.8 V203.9 M697.5,186 V204.7 M698.5,188.8 V204 M699.5,186.3 V207 M700.5,180.7 V206.1 M701.5,187.1 V209.7 M702.5,187.4 V209.7 M703.5,187.1 V204.8 M704.5,188.6 V203.7 M705.5,180.1 V207 M706.5,188.3 V203.8 M707.5,187.7 V207.1 M708.5,186.5 V202.7 M709.5,185.6 V203 M710.5,187.6 V203 M711.5,188.6 V203.6 M712.5,184.3 V203.1 M713.5,188.2 V209.7 M714.5,182.2 V203.6 M715.5,186.3 V204.6 M716.5,183.8 V201.7 M717.5,189.2 V202.1 M718.5,187.6 V203.2 M719.5,187.3 V206 M720.5,189 V202.1 M721.5,185.9 V204.6 M722.5,187.5 V209.8 M723.5,189.1 V208.6 M724.5,182.1 V205.9 M725.5,188.6 V201.8 M726.5,188.6 V201.8 M727.5,186.7 V201.4 M728.5,187.7 V207.5 M729.5,184.3 V202.6 M730.5,189.4 V201.6 M731.5,186.8 V202.8 M732.5,185 V202.7 M733.5,189.5 V203.8 M734.5,188.2 V205 M735.5,182.4 V201.8 M736.5,189.8 V204 M737.5,187.2 V201.2 M738.5,188.6 V208 M739.5,183.2 V204.4 M740.5,189.7 V203.3 M741.5,188.7 V206.6 M742.5,184.1 V206.9 M743.5,189 V201.4 M744.5,182.7 V203.3 M745.5,188.8 V204.1 M746.5,190 V202.1 M747.5,185.7 V205.7 M748.5,189.6 V204.8 M749.5,187.7 V206.5 M750.5,188.7 V206.5 M751.5,189.1 V201.4 M752.5,185.9 V203 M753.5,187.5 V200.1 M754.5,191.2 V199.8 M755.5,189.8 V199.3 M756.5,187.2 V199.3 M757.5,190 V199.9 M758.5,190.5 V199.2 M759.5,190.6 V199.4 M760.5,186.7 V199.5 M761.5,191.1 V202 M762.5,189.4 V200.8 M763.5,190.4 V201 M764.5,190.1 V203.4 M765.5,189.8 V203.8 M766.5,191.1 V200.5 M767.5,191.2 V201.1 M768.5,189.9 V200.8 M769.5,190.6 V200.7 M770.5,190.9 V200.2 M771.5,191.3 V200.7 M772.5,186.5 V201.8 M773.5,191 V200.9 M774.5,190.1 V200.7 M775.5,190.1 V200.8 M776.5,191.3 V200.8 M777.5,190.3 V200.7 M778.5,187.8 V201.5 M779.5,190.7 V200 M780.5,191.1 V200.8 M781.5,191 V202 M782.5,190.7 V200.7 M783.5,187.2 V203.9 M784.5,188.6 V199.8 M785.5,186.5 V200.8 M786.5,190.6 V200 M787.5,191.2 V199.3 M788.5,191.6 V204.2 M789.5,190 V202.2 M790.5,187.7 V200 M791.5,189.8 V200.3 M792.5,187.5 V200.9 M793.5,190.3 V199.7 M794.5,190.3 V200 M795.5,189.7 V203.8 M796.5,190.5 V200.4 M797.5,190.2 V199 M798.5,191.4 V200.7 M799.5,187.7 V199 M800.5,190.2 V199.5 M801.5,191.1 V199.8 M802.5,190.4 V200.3 M803.5,189.8 V200.3 M804.5,189.2 V200.5 M805.5,191 V202.6 M806.5,191.4 V199.2 M807.5,191.6 V202.1 M808.5,189.8 V201.9 M809.5,191.3 V199.7 M810.5,188.9 V199.6 M811.5,191.2 V203.8 M812.5,190.1 V200.4 M813.5,191.4 V200 M814.5,190.3 V199.7 M815.5,189.8 V199.8 M816.5,191.1 V199.4 M817.5,190.4 V201.5 M818.5,188.6 V203.9 M819.5,190.1 V201.5 M820.5,188.3 V202 M821.5,190 V200.8 M822.5,189.8 V200.8 M823.5,190.6 V206.1 M824.5,190.2 V202.2 M825.5,187.8 V204.3 M826.5,189.3 V201.5 M827.5,189.9 V206.4 M828.5,189.2 V205.8 M829.5,189.9 V202.6 M830.5,189.1 V202.6 M831.5,185.8 V201.9 M832.5,188.3 V202.6 M833.5,187.6 V203.6 M834.5,188.5 V201.4 M835.5,190.6 V201.4 M836.5,185.4 V204.8 M837.5,185.8 V203.2 M838.5,183.6 V205.3 M839.5,189 V203.1 M840.5,182.8 V209.6 M841.5,187.9 V209.7 M842.5,183.6 V202 M843.5,187.3 V203 M844.5,187.8 V209.7 M845.5,187.2 V202.4 M846.5,189.5 V201.6 M847.5,187.8 V202.5 M848.5,189.3 V201.8 M849.5,183.4 V202.1 M850.5,183.7 V204.9 M851.5,188.1 V202.7 M852.5,187.6 V202.4 M853.5,186.6 V207 M854.5,188.8 V204.4 M855.5,185.2 V200.8 M856.5,187.5 V202.1 M857.5,189.7 V202.6 M858.5,185.5 V202 M859.5,189.3 V201.4 M860.5,188.6 V200.5 M861.5,188.3 V204.7 M862.5,189.4 V200.2 M863.5,190.4 V201.1 M864.5,188.9 V203.8 M865.5,191.1 V201.3 M866.5,190.9 V200.8 M867.5,187.3 V201.7 M868.5,189.3 V203.1 M869.5,189.9 V204.7 M870.5,187.5 V201.2 M871.5,189.2 V199.9 M872.5,190.9 V200.5 M873.5,189.5 V204.3 M874.5,190.1 V205.1 M875.5,191.2 V205.1 M876.5,187.9 V201 M877.5,190 V201.5 M878.5,190 V201.2 M879.5,186.6 V203.1 M880.5,190.5 V199.4 M881.5,189.6 V199.2 M882.5,190.1 V204 M883.5,187.7 V204.2 M884.5,189.5 V204.6 M885.5,189.6 V200.8 M886.5,189.6 V202 M887.5,190.6 V199.6 M888.5,191.1 V201.6 M889.5,190.8 V200.3 M890.5,190.8 V201.2 M891.5,190.9 V201.9 M892.5,190.8 V200.5 M893.5,190.7 V202.1 M894.5,191.1 V202.6 M895.5,189.7 V200.8 M896.5,189.7 V201.9 M897.5,189.3 V201.7 M898.5,191 V201.7 M899.5,189.1 V205.8 M900.5,189.5 V203.1 M901.5,190.3 V203.7 M902.5,189.6 V201.3 M903.5,188.8 V200.2 M904.5,187.2 V202.7 M905.5,189.1 V201.1 M906.5,189.5 V200.4 M907.5,186.6 V200.3 M908.5,190.7 V199.2 M909.5,190.7 V200.4 M910.5,190.5 V200.2 M911.5,190.1 V202.5 M912.5,190.1 V199.8 M913.5,189.6 V199.3 M914.5,191.2 V200.5 M915.5,188.9 V200.5 M916.5,191.3 V199.3 M917.5,191.3 V198.3 M918.5,190.7 V198.5 M919.5,189.4 V199.3 M920.5,188.7 V200.1 M921.5,191.7 V199 M922.5,192.2 V198.8 M923.5,192.3 V198.6 M924.5,191.1 V198.7 M925.5,190.2 V198.5 M926.5,191.4 V198.5 M927.5,190.5 V198.9 M928.5,191.4 V200 M929.5,188.4 V202.5 M930.5,191.2 V202 M931.5,189.7 V198.5 M932.5,188.5 V200.9 M933.5,192 V200.5 M934.5,191.7 V199 M935.5,192.2 V199.6 M936.5,190.6 V198.5 M937.5,191.2 V200.2 M938.5,192 V201.1 M939.5,190.5 V199 M940.5,191.4 V200.5 M941.5,191.4 V199.9 M942.5,192.1 V199.1 M943.5,190.2 V198.6 M944.5,189.9 V199.1 M945.5,192.2 V198.8 M946.5,188.8 V198.5 M947.5,191.5 V200 M948.5,191.4 V201.2 M949.5,191.4 V201.3 M950.5,191.2 V202.2 M951.5,191.1 V198.9 M952.5,192 V201.6 M953.5,192.1 V200.1 M954.5,192 V202.1 M955.5,190.7 V199.4 M956.5,188 V201.3 M957.5,190.7 V200 M958.5,191.9 V198.7 M959.5,191.5 V202.7 M960.5,191.6 V199.4 M961.5,189.6 V202.3 M962.5,188.9 V201.3 M963.5,191.1 V200.7 M964.5,187.9 V200.4 M965.5,191.3 V198.5 M966.5,190.1 V199.1 M967.5,190.8 V199.8 M968.5,191.8 V199 M969.5,188 V200.1 M970.5,189.8 V199.8 M971.5,191.4 V199.7 M972.5,191.4 V200.7 M973.5,191.3 V199.9 M974.5,191.9 V202.6 M975.5,191.9 V198.8 M976.5,189.5 V199.5 M977.5,188.4 V199.2 M978.5,190.9 V201.4 M979.5,191 V198.7 M980.5,190.9 V201.3 M981.5,191.9 V200 M982.5,191.8 V199 M983.5,190.9 V200.7 M984.5,189.8 V200.5 M985.5,191.5 V201.7 M986.5,191.2 V199.6 M987.5,191.9 V198.4 M988.5,191.9 V200 M989.5,190.8 V199.5 M990.5,190.6 V202.3 M991.5,191.7 V199.4 M992.5,190.7 V198.8 M993.5,188.9 V198.9 M994.5,190.5 V202.1 M995.5,189.8 V202.2 M996.5,192.1 V202.8 M997.5,191.9 V199.3 M998.5,191.5 V198.9 M999.5,190.2 V200.4 M1000.5,191 V202.4 M1001.5,191.6 V198.8 M1002.5,191.2 V200.6 M1003.5,191.5 V198.8 M1004.5,190.8 V201.9 M1005.5,188.4 V199.8 M1006.5,190.2 V199.4 M1007.5,189.9 V198.6 M1008.5,191.7 V201.4 M1009.5,190.9 V202.3 M1010.5,189.6 V199.6 M1011.5,190.6 V201.1 M1012.5,191.7 V200.8 M1013.5,190.7 V200.1 M1014.5,191.6 V199.7 M1015.5,188.6 V200.3 M1016.5,191.9 V200 M1017.5,191.8 V201.7 M1018.5,191.5 V199.4 M1019.5,191.9 V201.3 M1020.5,191.7 V198.9 M1021.5,191.3 V199.8 M1022.5,191.3 V200.1 M1023.5,191.9 V199.6 M1024.5,190.3 V200.1 M1025.5,189 V199 M1026.5,188.1 V199.3 M1027.5,189.2 V203.1 M1028.5,189.5 V198.7 M1029.5,190.1 V201.8 M1030.5,191.8 V202.5 M1031.5,191.5 V201 M1032.5,191.9 V202.5 M1033.5,190.5 V200.2 M1034.5,191.6 V199.8 M1035.5,191.8 V203.1 M1036.5,187.9 V199 M1037.5,188.9 V198.8 M1038.5,191.5 V202.5 M1039.5,191.7 V200 M1040.5,191.1 V202.6 M1041.5,190.5 V199.1 M1042.5,190.6 V201.4 M1043.5,191.4 V198.7 M1044.5,186.3 V200.4 M1045.5,188.5 V207.2 M1046.5,186.3 V204 M1047.5,187.5 V204.2 M1048.5,186.8 V205.4 M1049.5,185.6 V208.2 M1050.5,187 V207 M1051.5,185.5 V213.8 M1052.5,186.9 V205.8 M1053.5,185.9 V208.3 M1054.5,185.3 V202.2 M1055.5,188.7 V205.7 M1056.5,189.1 V202.9 M1057.5,187.2 V203.3 M1058.5,188.9 V203.3 M1059.5,188.1 V201 M1060.5,188.5 V201.8 M1061.5,188.7 V200.7 M1062.5,190.2 V201.6 M1063.5,185.6 V204.2 M1064.5,189.9 V199.5 M1065.5,190 V199.7 M1066.5,187.3 V199.4 M1067.5,189.7 V199.8 M1068.5,189.7 V202.3 M1069.5,190 V203.3 M1070.5,190.1 V205.1 M1071.5,190.2 V199.8 M1072.5,190.1 V201.5 M1073.5,189.3 V202.1 M1074.5,189.2 V202 M1075.5,189.1 V200.2 M1076.5,189.3 V201.4 M1077.5,187.6 V201.4 M1078.5,190.7 V204.3 M1079.5,189.1 V204.1 M1080.5,190.4 V202.8 M1081.5,185.9 V202.5 M1082.5,189 V207.3 M1083.5,190.6 V201.7 M1084.5,188 V202.4 M1085.5,186.4 V203.3 M1086.5,188.9 V204.3 M1087.5,186.6 V201.3 M1088.5,187.4 V204.2 M1089.5,189.5 V205.6 M1090.5,188.4 V203.1 M1091.5,190.3 V200.9 M1092.5,188 V203.2 M1093.5,189.9 V201.5 M1094.5,189.8 V207.4 M1095.5,190.7 V202.5 M1096.5,189.2 V201.6 M1097.5,190 V202.4 M1098.5,188.4 V205.1 M1099.5,188.8 V202.4 M1100.5,188.6 V201.4 M1101.5,188.3 V202 M1102.5,187.9 V200.9 M1103.5,189.7 V200.5 M1104.5,190.5 V199.7 M1105.5,190.8 V199.2 M1106.5,191.4 V200.1 M1107.5,191.6 V200 M1108.5,188.2 V200.9 M1109.5,187.9 V201 M1110.5,189.5 V199.8 M1111.5,190.4 V200.2 M1112.5,187.5 V198.9 M1113.5,190.5 V198.7 M1114.5,190.7 V200.3 M1115.5,190.1 V200.4 M1116.5,190.9 V200.8 M1117.5,188.5 V200.2 M1118.5,190.3 V199.2 M1119.5,189.6 V200.3 M1120.5,191.7 V200.8 M1121.5,190.8 V201.9 M1122.5,192 V199.9 M1123.5,191.3 V199.6 M1124.5,191.4 V200.1 M1125.5,191.1 V200.8 M1126.5,190.8 V202.7 M1127.5,191.1 V202.7 M1128.5,190.9 V199.8 M1129.5,190.4 V200.2 M1130.5,191.5 V199 M1131.5,190.7 V200 M1132.5,190.8 V199.9 M1133.5,188.5 V202.9 M1134.5,191.6 V198.7 M1135.5,190.7 V202.6 M1136.5,190.5 V199.3 M1137.5,191.9 V198.7 M1138.5,190 V199.3 M1139.5,191.6 V199.7 M1140.5,188.8 V198.9 M1141.5,191.6 V200.2 M1142.5,190.3 V199.6 M1143.5,190.7 V200.1 M1144.5,190.4 V198.8 M1145.5,191.8 V198.6 M1146.5,191.1 V198.8 M1147.5,191.4 V202.7 M682.5,190 V207 M685.5,186 V206 M687.5,178 V218 M690.5,184 V204 M695.5,190 V203 M697.5,183 V205 M700.5,181 V205 M702.5,177 V201 M705.5,189 V212 M707.5,180 V202 M710.5,189 V203 M715.5,181 V215 M720.5,190 V202 M726.5,182 V204 M730.5,175 V211 M734.5,178 V209 M738.5,183 V205 M742.5,184 V209 M746.5,188 V202 M750.5,189 V202 M755.5,189 V200 M760.5,190 V201 M765.5,191 V201 M770.5,189 V200 M775.5,191 V201 M780.5,189 V200 M785.5,191 V201 M790.5,191 V199 M796.5,190 V201 M802.5,191 V200 M808.5,190 V201 M815.5,190 V205 M821.5,186 V205 M827.5,186 V206 M834.5,184 V204 M840.5,185 V207 M841.5,178 V215 M842.5,155 V231 M843.5,165 V230 M844.5,175 V226 M846.5,182 V215 M850.5,170 V208 M855.5,185 V205 M860.5,189 V202 M865.5,191 V202 M871.5,181 V210 M877.5,187 V202 M884.5,190 V201 M890.5,187 V204 M894.5,179 V220 M899.5,181 V208 M904.5,187 V201 M909.5,186 V202 M915.5,190 V199 M925.5,189 V200 M935.5,190 V199 M945.5,189 V200 M955.5,190 V199 M962.5,187 V203 M967.5,181 V210 M972.5,187 V204 M980.5,190 V200 M990.5,189 V199 M1000.5,190 V200 M1010.5,189 V200 M1020.5,187 V203 M1027.5,178 V206 M1035.5,190 V201 M1045.5,190 V201 M1048.5,180 V212 M1049.5,163 V225 M1050.5,165 V244 M1051.5,172 V222 M1052.5,180 V215 M1054.5,184 V212 M1056.5,186 V208 M1058.5,187 V206 M1063.5,188 V202 M1070.5,189 V201 M1080.5,189 V202 M1085.5,185 V205 M1093.5,184 V207 M1100.5,186 V205 M1107.5,189 V200 M1115.5,189 V200 M1125.5,190 V200 M1135.5,189 V201 M1141.5,162 V219 M1144.5,186 V205 M1147.5,189 V203" stroke="#FFFF00" stroke-width="1" fill="none" shape-rendering="crispEdges" clip-path="url(#c2)"/>
<rect x="665.5" y="65.5" width="501.0" height="253.0" fill="none" stroke="#000" stroke-width="1"/>
<text x="915.9" y="40" font-size="16" font-weight="bold" text-anchor="middle">SNFCA versus S&amp;P500 stock return time-series</text>
<line x1="683.5" y1="318.5" x2="683.5" y2="327.0" stroke="#000" stroke-width="1"/>
<text x="683.5" y="348.0" font-size="13" text-anchor="middle">2000</text>
<line x1="774.5" y1="318.5" x2="774.5" y2="327.0" stroke="#000" stroke-width="1"/>
<text x="774.5" y="348.0" font-size="13" text-anchor="middle">2005</text>
<line x1="864.5" y1="318.5" x2="864.5" y2="327.0" stroke="#000" stroke-width="1"/>
<text x="864.5" y="348.0" font-size="13" text-anchor="middle">2010</text>
<line x1="955.5" y1="318.5" x2="955.5" y2="327.0" stroke="#000" stroke-width="1"/>
<text x="955.5" y="348.0" font-size="13" text-anchor="middle">2015</text>
<line x1="1045.5" y1="318.5" x2="1045.5" y2="327.0" stroke="#000" stroke-width="1"/>
<text x="1045.5" y="348.0" font-size="13" text-anchor="middle">2020</text>
<line x1="1136.5" y1="318.5" x2="1136.5" y2="327.0" stroke="#000" stroke-width="1"/>
<text x="1136.5" y="348.0" font-size="13" text-anchor="middle">2025</text>
<line x1="657.0" y1="305.5" x2="665.5" y2="305.5" stroke="#000" stroke-width="1"/>
<text transform="translate(647.0,305.5) rotate(-90)" font-size="13" text-anchor="middle">-0.3</text>
<line x1="657.0" y1="268.5" x2="665.5" y2="268.5" stroke="#000" stroke-width="1"/>
<text transform="translate(647.0,268.5) rotate(-90)" font-size="13" text-anchor="middle">-0.2</text>
<line x1="657.0" y1="232.5" x2="665.5" y2="232.5" stroke="#000" stroke-width="1"/>
<text transform="translate(647.0,232.5) rotate(-90)" font-size="13" text-anchor="middle">-0.1</text>
<line x1="657.0" y1="195.5" x2="665.5" y2="195.5" stroke="#000" stroke-width="1"/>
<text transform="translate(647.0,195.5) rotate(-90)" font-size="13" text-anchor="middle">0.0</text>
<line x1="657.0" y1="159.5" x2="665.5" y2="159.5" stroke="#000" stroke-width="1"/>
<text transform="translate(647.0,159.5) rotate(-90)" font-size="13" text-anchor="middle">0.1</text>
<line x1="657.0" y1="122.5" x2="665.5" y2="122.5" stroke="#000" stroke-width="1"/>
<text transform="translate(647.0,122.5) rotate(-90)" font-size="13" text-anchor="middle">0.2</text>
<line x1="657.0" y1="86.5" x2="665.5" y2="86.5" stroke="#000" stroke-width="1"/>
<text transform="translate(647.0,86.5) rotate(-90)" font-size="13" text-anchor="middle">0.3</text>
<rect x="995.5" y="65.5" width="171" height="48" fill="#fff" stroke="#000" stroke-width="1"/>
<line x1="1007" y1="81" x2="1032" y2="81" stroke="#0000FF" stroke-width="2.2"/>
<line x1="1007" y1="97.5" x2="1032" y2="97.5" stroke="#FFFF00" stroke-width="1"/>
<text x="1042.5" y="87" font-size="13" textLength="119" lengthAdjust="spacing">SNFCA stock return</text>
<text x="1042.5" y="103" font-size="13" textLength="112" lengthAdjust="spacing">GSPC stock return</text>
<line x1="65.5" y1="709.5" x2="566.5" y2="709.5" stroke="#BEBEBE" stroke-width="1"/>
<path d="M240,708.6 L270,708 L280.9,706.4 L288.8,700.9 L294.2,691.6 L296.6,677.5 L299.7,658.8 L302,640 L303.6,613.4 L304.3,586.3 L305.4,552.1 L306.3,526.1 L307.6,492 L308.7,478.9 L310.3,496 L311.1,523.7 L312.4,549.7 L313.6,572.4 L314.4,598.5 L315.3,616.6 L317.7,641.6 L320,677.5 L323.1,694.7 L327.8,703.3 L335.6,707.2 L348.1,708.4 L373.5,708.6" fill="none" stroke="#FFA500" stroke-width="1.1" clip-path="url(#c3)"/>
<path d="M78,708.4 L173,708.4 L174,707.5 L182,707.5 L183,708.4 L195,708.4 L196,707.5 L230,707.5 L231,706.6 L243,706.6 L244,705.4 L256,705.4 L258,703.1 L265,703.1 L266,701.9 L272,700.5 L276.3,699.4 L280.9,694.4 L285.6,692.3 L290.3,686.9 L294.2,679.1 L298.1,666.6 L302,652.5 L304.4,636.9 L306.3,616.6 L307.2,590 L308.2,572.4 L309.8,590 L310.9,613.4 L312.5,640 L315.3,657.2 L318.4,672.8 L323.1,682.2 L329.4,691.6 L335.6,697 L340,697.7 L343.8,700.5 L349.6,703 L359.2,705.3 L372.6,706.3 L381.2,705.3 L388.9,705.7 L391.8,707.6 L435.8,707.8 L437.8,707.2 L439.7,707.8 L455,707.2 L457,707.8 L554.7,708.2" fill="none" stroke="#228B22" stroke-width="2.2" clip-path="url(#c3)"/>
<rect x="65.5" y="465.5" width="501.0" height="253.0" fill="none" stroke="#000" stroke-width="1"/>
<text x="315.9" y="440" font-size="16" font-weight="bold" text-anchor="middle">SNFCA versus S&amp;P500 stock return distribution</text>
<line x1="92.5" y1="718.5" x2="92.5" y2="727.0" stroke="#000" stroke-width="1"/>
<text x="92.5" y="748.0" font-size="13" text-anchor="middle">-0.3</text>
<line x1="164.5" y1="718.5" x2="164.5" y2="727.0" stroke="#000" stroke-width="1"/>
<text x="164.5" y="748.0" font-size="13" text-anchor="middle">-0.2</text>
<line x1="236.5" y1="718.5" x2="236.5" y2="727.0" stroke="#000" stroke-width="1"/>
<text x="236.5" y="748.0" font-size="13" text-anchor="middle">-0.1</text>
<line x1="308.5" y1="718.5" x2="308.5" y2="727.0" stroke="#000" stroke-width="1"/>
<text x="308.5" y="748.0" font-size="13" text-anchor="middle">0.0</text>
<line x1="380.5" y1="718.5" x2="380.5" y2="727.0" stroke="#000" stroke-width="1"/>
<text x="380.5" y="748.0" font-size="13" text-anchor="middle">0.1</text>
<line x1="452.5" y1="718.5" x2="452.5" y2="727.0" stroke="#000" stroke-width="1"/>
<text x="452.5" y="748.0" font-size="13" text-anchor="middle">0.2</text>
<line x1="524.5" y1="718.5" x2="524.5" y2="727.0" stroke="#000" stroke-width="1"/>
<text x="524.5" y="748.0" font-size="13" text-anchor="middle">0.3</text>
<line x1="57.0" y1="709.5" x2="65.5" y2="709.5" stroke="#000" stroke-width="1"/>
<text transform="translate(47.0,709.5) rotate(-90)" font-size="13" text-anchor="middle">0</text>
<line x1="57.0" y1="668.5" x2="65.5" y2="668.5" stroke="#000" stroke-width="1"/>
<text transform="translate(47.0,668.5) rotate(-90)" font-size="13" text-anchor="middle">10</text>
<line x1="57.0" y1="628.5" x2="65.5" y2="628.5" stroke="#000" stroke-width="1"/>
<text transform="translate(47.0,628.5) rotate(-90)" font-size="13" text-anchor="middle">20</text>
<line x1="57.0" y1="587.5" x2="65.5" y2="587.5" stroke="#000" stroke-width="1"/>
<text transform="translate(47.0,587.5) rotate(-90)" font-size="13" text-anchor="middle">30</text>
<line x1="57.0" y1="546.5" x2="65.5" y2="546.5" stroke="#000" stroke-width="1"/>
<text transform="translate(47.0,546.5) rotate(-90)" font-size="13" text-anchor="middle">40</text>
<line x1="57.0" y1="506.5" x2="65.5" y2="506.5" stroke="#000" stroke-width="1"/>
<text transform="translate(47.0,506.5) rotate(-90)" font-size="13" text-anchor="middle">50</text>
<line x1="57.0" y1="465.5" x2="65.5" y2="465.5" stroke="#000" stroke-width="1"/>
<text transform="translate(47.0,465.5) rotate(-90)" font-size="13" text-anchor="middle">60</text>
<rect x="65.5" y="465.5" width="202" height="48" fill="#fff" stroke="#000" stroke-width="1"/>
<line x1="77" y1="481.5" x2="102" y2="481.5" stroke="#0E7A0E" stroke-width="2.2"/>
<line x1="77" y1="497.5" x2="102" y2="497.5" stroke="#FFA500" stroke-width="1"/>
<text x="112.5" y="487" font-size="13" textLength="149" lengthAdjust="spacing">SNFCA return distribution</text>
<text x="112.5" y="503" font-size="13" textLength="142.5" lengthAdjust="spacing">GSPC return distribution</text>
<g clip-path="url(#c4)"><rect x="683.9" y="716.4" width="5.21" height="0.1" fill="#0000FF" stroke="#000" stroke-width="1"/><rect x="689.1" y="716.5" width="5.21" height="0" fill="#FFFF00" stroke="#000" stroke-width="1"/><rect x="699.5" y="716.4" width="5.21" height="0.1" fill="#0000FF" stroke="#000" stroke-width="1"/><rect x="704.8" y="716.5" width="5.21" height="0" fill="#FFFF00" stroke="#000" stroke-width="1"/><rect x="715.2" y="715.2" width="5.21" height="1.3" fill="#0000FF" stroke="#000" stroke-width="1"/><rect x="720.4" y="716.4" width="5.21" height="0.1" fill="#FFFF00" stroke="#000" stroke-width="1"/><rect x="730.8" y="715.2" width="5.21" height="1.3" fill="#0000FF" stroke="#000" stroke-width="1"/><rect x="736" y="716.4" width="5.21" height="0.1" fill="#FFFF00" stroke="#000" stroke-width="1"/><rect x="746.5" y="715.2" width="5.21" height="1.3" fill="#0000FF" stroke="#000" stroke-width="1"/><rect x="751.7" y="716.4" width="5.21" height="0.1" fill="#FFFF00" stroke="#000" stroke-width="1"/><rect x="762.1" y="715.2" width="5.21" height="1.3" fill="#0000FF" stroke="#000" stroke-width="1"/><rect x="767.3" y="716.4" width="5.21" height="0.1" fill="#FFFF00" stroke="#000" stroke-width="1"/><rect x="777.8" y="715.2" width="5.21" height="1.3" fill="#0000FF" stroke="#000" stroke-width="1"/><rect x="783" y="716.4" width="5.21" height="0.1" fill="#FFFF00" stroke="#000" stroke-width="1"/><rect x="793.4" y="715.2" width="5.21" height="1.3" fill="#0000FF" stroke="#000" stroke-width="1"/><rect x="798.6" y="716.4" width="5.21" height="0.1" fill="#FFFF00" stroke="#000" stroke-width="1"/><rect x="809" y="714.1" width="5.21" height="2.4" fill="#0000FF" stroke="#000" stroke-width="1"/><rect x="814.2" y="716.4" width="5.21" height="0.1" fill="#FFFF00" stroke="#000" stroke-width="1"/><rect x="824.7" y="713.3" width="5.21" height="3.2" fill="#0000FF" stroke="#000" stroke-width="1"/><rect x="829.9" y="716.2" width="5.21" height="0.3" fill="#FFFF00" stroke="#000" stroke-width="1"/><rect x="840.3" y="711.2" width="5.21" height="5.3" fill="#0000FF" stroke="#000" stroke-width="1"/><rect x="845.5" y="715.5" width="5.21" height="1" fill="#FFFF00" stroke="#000" stroke-width="1"/><rect x="856" y="706.3" width="5.21" height="10.2" fill="#0000FF" stroke="#000" stroke-width="1"/><rect x="861.2" y="715.5" width="5.21" height="1" fill="#FFFF00" stroke="#000" stroke-width="1"/><rect x="871.6" y="697.2" width="5.21" height="19.3" fill="#0000FF" stroke="#000" stroke-width="1"/><rect x="876.8" y="712.3" width="5.21" height="4.2" fill="#FFFF00" stroke="#000" stroke-width="1"/><rect x="887.2" y="666.4" width="5.21" height="50.1" fill="#0000FF" stroke="#000" stroke-width="1"/><rect x="892.5" y="680.4" width="5.21" height="36.1" fill="#FFFF00" stroke="#000" stroke-width="1"/><rect x="902.9" y="561.4" width="5.21" height="155.1" fill="#0000FF" stroke="#000" stroke-width="1"/><rect x="908.1" y="460.5" width="5.21" height="256" fill="#FFFF00" stroke="#000" stroke-width="1"/><rect x="918.5" y="667.2" width="5.21" height="49.3" fill="#0000FF" stroke="#000" stroke-width="1"/><rect x="923.7" y="674.3" width="5.21" height="42.2" fill="#FFFF00" stroke="#000" stroke-width="1"/><rect x="934.2" y="696.4" width="5.21" height="20.1" fill="#0000FF" stroke="#000" stroke-width="1"/><rect x="939.4" y="713.3" width="5.21" height="3.2" fill="#FFFF00" stroke="#000" stroke-width="1"/><rect x="949.8" y="707.3" width="5.21" height="9.2" fill="#0000FF" stroke="#000" stroke-width="1"/><rect x="955" y="715.2" width="5.21" height="1.3" fill="#FFFF00" stroke="#000" stroke-width="1"/><rect x="965.5" y="711.3" width="5.21" height="5.2" fill="#0000FF" stroke="#000" stroke-width="1"/><rect x="970.7" y="716.1" width="5.21" height="0.4" fill="#FFFF00" stroke="#000" stroke-width="1"/><rect x="981.1" y="712.3" width="5.21" height="4.2" fill="#0000FF" stroke="#000" stroke-width="1"/><rect x="986.3" y="716.4" width="5.21" height="0.1" fill="#FFFF00" stroke="#000" stroke-width="1"/><rect x="996.7" y="714.3" width="5.21" height="2.2" fill="#0000FF" stroke="#000" stroke-width="1"/><rect x="1002" y="716.4" width="5.21" height="0.1" fill="#FFFF00" stroke="#000" stroke-width="1"/><rect x="1012.4" y="714.3" width="5.21" height="2.2" fill="#0000FF" stroke="#000" stroke-width="1"/><rect x="1017.6" y="716.4" width="5.21" height="0.1" fill="#FFFF00" stroke="#000" stroke-width="1"/><rect x="1028" y="715.1" width="5.21" height="1.4" fill="#0000FF" stroke="#000" stroke-width="1"/><rect x="1033.2" y="716.4" width="5.21" height="0.1" fill="#FFFF00" stroke="#000" stroke-width="1"/><rect x="1043.7" y="715.1" width="5.21" height="1.4" fill="#0000FF" stroke="#000" stroke-width="1"/><rect x="1048.9" y="716.4" width="5.21" height="0.1" fill="#FFFF00" stroke="#000" stroke-width="1"/><rect x="1059.3" y="715.1" width="5.21" height="1.4" fill="#0000FF" stroke="#000" stroke-width="1"/><rect x="1064.5" y="716.4" width="5.21" height="0.1" fill="#FFFF00" stroke="#000" stroke-width="1"/><rect x="1075" y="716.4" width="5.21" height="0.1" fill="#0000FF" stroke="#000" stroke-width="1"/><rect x="1080.2" y="716.5" width="5.21" height="0" fill="#FFFF00" stroke="#000" stroke-width="1"/><rect x="1090.6" y="716.4" width="5.21" height="0.1" fill="#0000FF" stroke="#000" stroke-width="1"/><rect x="1095.8" y="716.5" width="5.21" height="0" fill="#FFFF00" stroke="#000" stroke-width="1"/><rect x="1106.2" y="715.5" width="5.21" height="1" fill="#0000FF" stroke="#000" stroke-width="1"/><rect x="1111.4" y="716.4" width="5.21" height="0.1" fill="#FFFF00" stroke="#000" stroke-width="1"/><rect x="1121.9" y="716.4" width="5.21" height="0.1" fill="#0000FF" stroke="#000" stroke-width="1"/><rect x="1127.1" y="716.5" width="5.21" height="0" fill="#FFFF00" stroke="#000" stroke-width="1"/><rect x="1137.5" y="716.4" width="5.21" height="0.1" fill="#0000FF" stroke="#000" stroke-width="1"/><rect x="1142.7" y="716.5" width="5.21" height="0" fill="#FFFF00" stroke="#000" stroke-width="1"/></g>
<rect x="665.5" y="465.5" width="501.0" height="253.0" fill="none" stroke="#000" stroke-width="1"/>
<text x="915.9" y="440" font-size="16" font-weight="bold" text-anchor="middle">SNFCA versus S&amp;P500 return frequency distribution</text>
<text x="689.1" y="748" font-size="13" text-anchor="middle">[-0.312,-0.29)</text>
<text x="783" y="748" font-size="13" text-anchor="middle">[-0.183,-0.161)</text>
<text x="892.5" y="748" font-size="13" text-anchor="middle">[-0.0326,-0.0112)</text>
<text x="1002" y="748" font-size="13" text-anchor="middle">[0.118,0.139)</text>
<text x="1095.8" y="748" font-size="13" text-anchor="middle">[0.246,0.268)</text>
<text x="915.9" y="780" font-size="13" text-anchor="middle">return</text>
<text transform="translate(615.5,592.8) rotate(-90)" font-size="13" text-anchor="middle">frequency</text>
<line x1="657.0" y1="716.5" x2="665.5" y2="716.5" stroke="#000" stroke-width="1"/>
<text transform="translate(647.0,716.5) rotate(-90)" font-size="13" text-anchor="middle">0</text>
<line x1="657.0" y1="663.5" x2="665.5" y2="663.5" stroke="#000" stroke-width="1"/>
<text transform="translate(647.0,663.5) rotate(-90)" font-size="13" text-anchor="middle">1000</text>
<line x1="657.0" y1="611.5" x2="665.5" y2="611.5" stroke="#000" stroke-width="1"/>
<text transform="translate(647.0,611.5) rotate(-90)" font-size="13" text-anchor="middle">2000</text>
<line x1="657.0" y1="559.5" x2="665.5" y2="559.5" stroke="#000" stroke-width="1"/>
<text transform="translate(647.0,559.5) rotate(-90)" font-size="13" text-anchor="middle">3000</text>
<line x1="657.0" y1="507.5" x2="665.5" y2="507.5" stroke="#000" stroke-width="1"/>
<text transform="translate(647.0,507.5) rotate(-90)" font-size="13" text-anchor="middle">4000</text>
<rect x="986.5" y="465.5" width="180" height="48" fill="#fff" stroke="#000" stroke-width="1"/>
<rect x="998.5" y="477.5" width="9" height="9" fill="#0000FF" stroke="#000" stroke-width="1"/>
<rect x="998.5" y="493.5" width="9" height="9" fill="#FFFF00" stroke="#000" stroke-width="1"/>
<text x="1018.8" y="487" font-size="13" textLength="142.3" lengthAdjust="spacing">SNFCA return frequency</text>
<text x="1018.8" y="503" font-size="13" textLength="135.3" lengthAdjust="spacing">GSPC return frequency</text>
</svg></body></html>
